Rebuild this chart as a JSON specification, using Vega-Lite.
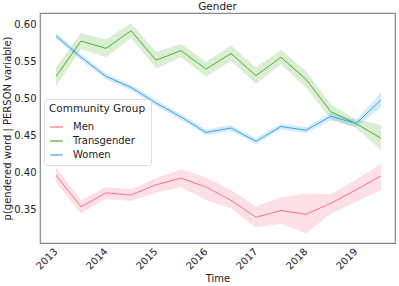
{
  "$schema": "https://vega.github.io/schema/vega-lite/v6.json",
  "width": 355,
  "height": 230,
  "autosize": {"type": "none"},
  "padding": {"left": 40, "top": 13, "right": 4, "bottom": 43},
  "background": "white",
  "title": {"text": "Gender", "fontSize": 10.5, "font": "DejaVu Sans", "fontWeight": "normal", "color": "#222", "offset": 0, "dy": 9, "baseline": "bottom", "anchor": "middle"},
  "config": {
    "font": "DejaVu Sans",
    "view": {"stroke": "#888", "strokeWidth": 1.2},
    "axis": {"grid": false, "ticks": false, "domain": false, "labelFont": "DejaVu Sans", "titleFont": "DejaVu Sans", "labelFontSize": 10, "titleFontSize": 10, "labelColor": "#222", "titleColor": "#222", "titleFontWeight": "normal"}
  },
  "data": {"values": [
    {"group": "Men", "t": 2013.08, "v": 0.396, "lo": 0.386, "hi": 0.406},
    {"group": "Men", "t": 2013.58, "v": 0.353, "lo": 0.344, "hi": 0.362},
    {"group": "Men", "t": 2014.08, "v": 0.372, "lo": 0.364, "hi": 0.380},
    {"group": "Men", "t": 2014.58, "v": 0.369, "lo": 0.361, "hi": 0.377},
    {"group": "Men", "t": 2015.08, "v": 0.383, "lo": 0.372, "hi": 0.392},
    {"group": "Men", "t": 2015.58, "v": 0.392, "lo": 0.380, "hi": 0.404},
    {"group": "Men", "t": 2016.08, "v": 0.380, "lo": 0.362, "hi": 0.393},
    {"group": "Men", "t": 2016.58, "v": 0.362, "lo": 0.351, "hi": 0.376},
    {"group": "Men", "t": 2017.08, "v": 0.339, "lo": 0.325, "hi": 0.354},
    {"group": "Men", "t": 2017.58, "v": 0.348, "lo": 0.330, "hi": 0.366},
    {"group": "Men", "t": 2018.08, "v": 0.343, "lo": 0.317, "hi": 0.371},
    {"group": "Men", "t": 2018.58, "v": 0.358, "lo": 0.344, "hi": 0.370},
    {"group": "Men", "t": 2019.08, "v": 0.376, "lo": 0.360, "hi": 0.390},
    {"group": "Men", "t": 2019.58, "v": 0.395, "lo": 0.376, "hi": 0.411},
    {"group": "Transgender", "t": 2013.08, "v": 0.530, "lo": 0.517, "hi": 0.542},
    {"group": "Transgender", "t": 2013.58, "v": 0.578, "lo": 0.567, "hi": 0.589},
    {"group": "Transgender", "t": 2014.08, "v": 0.568, "lo": 0.556, "hi": 0.580},
    {"group": "Transgender", "t": 2014.58, "v": 0.592, "lo": 0.582, "hi": 0.602},
    {"group": "Transgender", "t": 2015.08, "v": 0.552, "lo": 0.541, "hi": 0.563},
    {"group": "Transgender", "t": 2015.58, "v": 0.565, "lo": 0.556, "hi": 0.574},
    {"group": "Transgender", "t": 2016.08, "v": 0.540, "lo": 0.530, "hi": 0.550},
    {"group": "Transgender", "t": 2016.58, "v": 0.561, "lo": 0.551, "hi": 0.572},
    {"group": "Transgender", "t": 2017.08, "v": 0.531, "lo": 0.520, "hi": 0.542},
    {"group": "Transgender", "t": 2017.58, "v": 0.556, "lo": 0.546, "hi": 0.566},
    {"group": "Transgender", "t": 2018.08, "v": 0.526, "lo": 0.515, "hi": 0.537},
    {"group": "Transgender", "t": 2018.58, "v": 0.482, "lo": 0.472, "hi": 0.492},
    {"group": "Transgender", "t": 2019.08, "v": 0.466, "lo": 0.460, "hi": 0.472},
    {"group": "Transgender", "t": 2019.58, "v": 0.446, "lo": 0.430, "hi": 0.464},
    {"group": "Women", "t": 2013.08, "v": 0.585, "lo": 0.581, "hi": 0.589},
    {"group": "Women", "t": 2013.58, "v": 0.556, "lo": 0.552, "hi": 0.560},
    {"group": "Women", "t": 2014.08, "v": 0.530, "lo": 0.526, "hi": 0.534},
    {"group": "Women", "t": 2014.58, "v": 0.515, "lo": 0.511, "hi": 0.519},
    {"group": "Women", "t": 2015.08, "v": 0.494, "lo": 0.490, "hi": 0.498},
    {"group": "Women", "t": 2015.58, "v": 0.475, "lo": 0.471, "hi": 0.479},
    {"group": "Women", "t": 2016.08, "v": 0.454, "lo": 0.450, "hi": 0.458},
    {"group": "Women", "t": 2016.58, "v": 0.460, "lo": 0.456, "hi": 0.464},
    {"group": "Women", "t": 2017.08, "v": 0.442, "lo": 0.438, "hi": 0.446},
    {"group": "Women", "t": 2017.58, "v": 0.462, "lo": 0.458, "hi": 0.466},
    {"group": "Women", "t": 2018.08, "v": 0.457, "lo": 0.453, "hi": 0.461},
    {"group": "Women", "t": 2018.58, "v": 0.476, "lo": 0.471, "hi": 0.481},
    {"group": "Women", "t": 2019.08, "v": 0.466, "lo": 0.461, "hi": 0.471},
    {"group": "Women", "t": 2019.58, "v": 0.498, "lo": 0.488, "hi": 0.508}
  ]},
  "encoding": {
    "x": {"field": "t", "type": "quantitative", "title": "Time",
      "scale": {"domain": [2012.76, 2019.86], "nice": false, "zero": false},
      "axis": {"values": [2013, 2014, 2015, 2016, 2017, 2018, 2019], "format": "d", "labelAngle": -45, "labelFlush": false, "labelPadding": 3, "titlePadding": 2}},
    "color": {"field": "group", "type": "nominal",
      "scale": {"domain": ["Men", "Transgender", "Women"], "range": ["#f77189", "#50b131", "#3ba3ec"]},
      "legend": {"title": "Community Group", "orient": "none", "legendX": 4, "legendY": 86,
        "symbolType": "stroke", "symbolSize": 160, "symbolStrokeWidth": 1.5, "symbolOpacity": 0.8,
        "titleFontSize": 10.5, "titleFontWeight": "normal", "titleColor": "#222", "labelFontSize": 10, "labelColor": "#222",
        "fillColor": "white", "strokeColor": "#ddd", "cornerRadius": 3, "padding": 5, "rowPadding": 1, "titlePadding": 5, "labelOffset": 9}}
  },
  "layer": [
    {"mark": {"type": "area", "opacity": 0.22},
      "encoding": {
        "y": {"field": "lo", "type": "quantitative"},
        "y2": {"field": "hi"}
      }},
    {"mark": {"type": "line", "strokeWidth": 1},
      "encoding": {
        "y": {"field": "v", "type": "quantitative", "title": "p(gendered word | PERSON variable)",
          "scale": {"domain": [0.304, 0.616], "nice": false, "zero": false},
          "axis": {"values": [0.35, 0.4, 0.45, 0.5, 0.55, 0.6], "format": ".2f", "labelPadding": 4, "titlePadding": 1}}
      }}
  ]
}
